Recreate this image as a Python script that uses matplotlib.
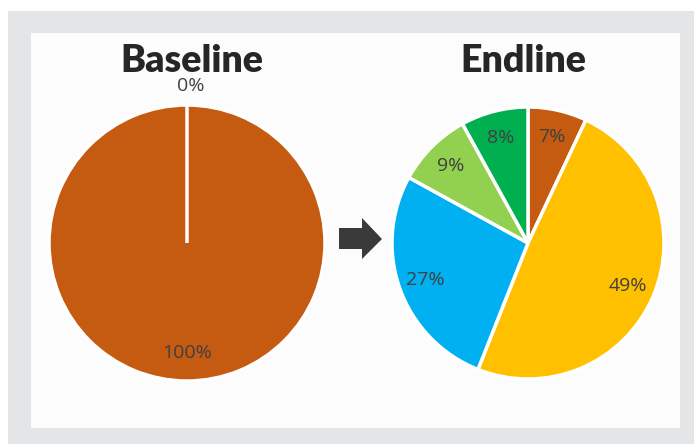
"""Baseline vs endline pie comparison."""

import matplotlib
import matplotlib.pyplot as plt
from matplotlib.patches import Rectangle, Polygon

matplotlib.use("Agg")

W, H = 694, 444

baseline_titles = "Baseline"
endline_title = "Endline"

baseline_values = [0, 100]
baseline_colors = ["#C55A11", "#C55A11"]

endline_values = [7, 49, 27, 9, 8]
endline_colors = ["#C55A11", "#FFC000", "#00B0F0", "#92D050", "#00B050"]

TEXT = "#404040"


def fx(px):
    return px / W


def fy(py):
    return 1 - py / H


fig = plt.figure(figsize=(W / 100, H / 100), dpi=100)
fig.patch.set_facecolor("white")

# grey frame and white inner panel
fig.patches.append(Rectangle((fx(8), 0), 1 - fx(8), fy(11), transform=fig.transFigure,
                             facecolor="#E4E5E7", edgecolor="none", zorder=-2))
fig.patches.append(Rectangle((fx(31), fy(428)), fx(680) - fx(31), fy(33) - fy(428),
                             transform=fig.transFigure, facecolor="#FCFCFC",
                             edgecolor="none", zorder=-1))


def pie_axes(cx, cy, r):
    ax = fig.add_axes([fx(cx - r), fy(cy + r), (2 * r) / W, (2 * r) / H])
    ax.set_zorder(1)
    return ax


def fmt(p):
    return f"{p:.0f}%"


# baseline
ax1 = pie_axes(187, 243, 138)
wedges, texts, autos = ax1.pie(
    baseline_values, colors=baseline_colors, startangle=90, counterclock=False,
    autopct=fmt, pctdistance=0.8,
    wedgeprops=dict(edgecolor="white", linewidth=2.5),
    textprops=dict(color=TEXT, fontsize=14, family="Open Sans"),
)
# the empty slice only shows as its white edge, keep it above the full one
wedges[0].set_zorder(3)
autos[0].set_position((0.03, 1.14))
ax1.set_xlim(-1, 1)
ax1.set_ylim(-1, 1)

# endline
ax2 = pie_axes(528, 243, 136)
wedges2, texts2, autos2 = ax2.pie(
    endline_values, colors=endline_colors, startangle=90, counterclock=False,
    autopct=fmt, pctdistance=0.8,
    wedgeprops=dict(edgecolor="white", linewidth=2.5),
    textprops=dict(color=TEXT, fontsize=14, family="Open Sans"),
)
ax2.set_xlim(-1, 1)
ax2.set_ylim(-1, 1)

fig.text(fx(192), fy(61), baseline_titles, ha="center", va="center",
         fontsize=27, fontweight="heavy", family="Lato", color="#262626")
fig.text(fx(523), fy(61), endline_title, ha="center", va="center",
         fontsize=27, fontweight="heavy", family="Lato", color="#262626")

# arrow between the pies
arrow = [(339, 228), (362, 228), (362, 218), (382, 239), (362, 259), (362, 249), (339, 249)]
fig.patches.append(Polygon([(fx(x), fy(y)) for x, y in arrow], closed=True,
                           transform=fig.transFigure, facecolor="#3A3A3A",
                           edgecolor="none"))

fig.savefig("out.png", dpi=100, facecolor=fig.get_facecolor())
plt.close(fig)
